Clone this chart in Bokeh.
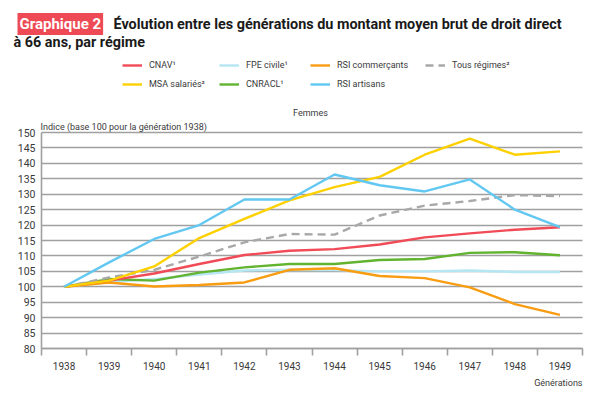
from bokeh.plotting import figure
from bokeh.models import (Range1d, FixedTicker, Label, Legend, LegendItem, ColumnDataSource)
from bokeh.embed import file_html
from bokeh.resources import INLINE

generations = ["1938", "1939", "1940", "1941", "1942", "1943", "1944",
               "1945", "1946", "1947", "1948", "1949"]
cnav = [100, 102.0, 104.3, 107.4, 110.3, 111.7, 112.2, 113.7, 116.0, 117.3, 118.5, 119.3]
msa_salaries = [100, 102.0, 106.6, 115.8, 122.0, 128.0, 132.3, 135.6, 142.8, 148.0, 142.8, 143.9]
fpe_civile = [100, 101.5, 102.5, 104.0, 105.3, 105.5, 105.4, 105.0, 105.0, 105.3, 104.8, 104.8]
cnracl = [100, 102.5, 102.0, 104.6, 106.3, 107.4, 107.4, 108.7, 109.0, 111.0, 111.2, 110.2]
rsi_commercants = [100, 101.4, 100.1, 100.6, 101.4, 105.5, 106.0, 103.5, 102.8, 99.8, 94.4, 90.9]
rsi_artisans = [100, 107.9, 115.5, 120.0, 128.3, 128.3, 136.4, 132.9, 130.9, 134.8, 125.0, 119.3]
tous_regimes = [100, 103.0, 105.5, 109.8, 114.4, 117.1, 116.9, 123.1, 126.3, 127.8, 129.7, 129.4]
y_ticks = list(range(80, 151, 5))

FONT = "Roboto"
TXT = "#3a3a3a"
GRID = "#a0a0a0"
W, H = 596, 395

# page-pixel layout of the plotting area
FL, FR, FT, FB = 41, 582, 132, 348
n = len(generations)
slot = (FR - FL) / n
ppu = (FB - FT) / (150 - 80)
X0 = -0.5 - FL / slot
X1 = (n - 0.5) + (W - FR) / slot
Y1 = 150 + FT / ppu
Y0 = 80 - (H - FB) / ppu

def X(px):
    return X0 + px / slot

def Y(py):
    return Y1 - py / ppu

series = [
    ("CNAV¹", cnav, "#f04b57", None),
    ("MSA salariés²", msa_salaries, "#fdd100", None),
    ("FPE civile¹", fpe_civile, "#b5e6f2", None),
    ("CNRACL¹", cnracl, "#62b330", None),
    ("RSI commerçants", rsi_commercants, "#f89c12", None),
    ("RSI artisans", rsi_artisans, "#62c8f2", None),
    ("Tous régimes²", tous_regimes, "#a8a8a8", "8 5"),
]
style = {s[0]: s for s in series}

p = figure(width=W, height=H, output_backend="svg", toolbar_location=None,
           x_range=Range1d(X0, X1), y_range=Range1d(Y0, Y1),
           min_border=0, min_border_left=0, min_border_right=0,
           min_border_top=0, min_border_bottom=0)
p.outline_line_color = None
p.title.visible = False
p.background_fill_color = "white"
p.border_fill_color = "white"
p.xgrid.visible = False
p.ygrid.visible = False

# y axis: fixed at the left edge of the plot area, its ticks run across as grid lines
ya = p.yaxis[0]
ya.fixed_location = -0.5
ya.bounds = (80, 150)
ya.level = "underlay"
ya.ticker = FixedTicker(ticks=y_ticks)
ya.major_tick_out = 0
ya.major_tick_in = int(FR - FL)
ya.major_tick_line_color = GRID
ya.major_tick_line_width = 1.6
ya.minor_tick_out = 0
ya.minor_tick_in = 0
ya.axis_line_color = GRID
ya.axis_line_width = 1.6
ya.major_label_text_font = FONT
ya.major_label_text_font_size = "10.5px"
ya.major_label_text_color = TXT
ya.major_label_standoff = 6

xa = p.xaxis[0]
xa.fixed_location = 80
xa.bounds = (-0.5, n - 0.5)
xa.level = "underlay"
xa.ticker = FixedTicker(ticks=list(range(n)), minor_ticks=[i - 0.5 for i in range(n + 1)])
xa.major_label_overrides = {i: g for i, g in enumerate(generations)}
xa.major_tick_out = 0
xa.major_tick_in = 0
xa.minor_tick_out = 7
xa.minor_tick_in = 0
xa.minor_tick_line_color = GRID
xa.minor_tick_line_width = 1.6
xa.axis_line_color = GRID
xa.axis_line_width = 1.6
xa.major_label_text_font = FONT
xa.major_label_text_font_size = "10px"
xa.major_label_text_color = TXT
xa.major_label_standoff = 6

draw_order = ["FPE civile¹", "RSI commerçants", "CNRACL¹", "CNAV¹",
              "Tous régimes²", "MSA salariés²", "RSI artisans"]
renderers = {}
for name in draw_order:
    _, vals, col, dash = style[name]
    src = ColumnDataSource(dict(x=list(range(n)), y=vals))
    kw = dict(line_color=col, line_width=2.4)
    if dash:
        kw["line_dash"] = dash
    renderers[name] = p.line("x", "y", source=src, **kw)

# legend in four columns
columns = [["CNAV¹", "MSA salariés²"], ["FPE civile¹", "CNRACL¹"],
           ["RSI commerçants", "RSI artisans"], ["Tous régimes²"]]
col_x = [122, 219, 310, 425]
for cx, names in zip(col_x, columns):
    bottom = 91 if len(names) == 2 else 72
    leg = Legend(items=[LegendItem(label=nm, renderers=[renderers[nm]]) for nm in names],
                 location=(cx, H - bottom),
                 orientation="vertical", padding=0, margin=0, spacing=5,
                 glyph_width=20, glyph_height=14, label_height=14, label_standoff=7,
                 label_text_font=FONT, label_text_font_size="9px", label_text_color=TXT,
                 border_line_color=None, background_fill_alpha=0)
    p.add_layout(leg, "center")

# texts
p.add_layout(Label(x=X(17), y=Y(23.5), text="Graphique 2",
                   text_font=FONT, text_font_style="bold", text_font_size="15px",
                   text_color="white", background_fill_color="#ee4a55",
                   padding=2, text_baseline="alphabetic"))
p.add_layout(Label(x=X(113), y=Y(23.5),
                   text="Évolution entre les générations du montant moyen brut de droit direct",
                   text_font=FONT, text_font_style="bold", text_font_size="14.4px",
                   text_color="#1a1a1a", text_baseline="alphabetic"))
p.add_layout(Label(x=X(13), y=Y(42), text="à 66 ans, par régime",
                   text_font=FONT, text_font_style="bold", text_font_size="14.4px",
                   text_color="#1a1a1a", text_baseline="alphabetic"))
p.add_layout(Label(x=X(310), y=Y(112), text="Femmes",
                   text_font=FONT, text_font_size="9px", text_color=TXT,
                   text_align="center", text_baseline="alphabetic"))
p.add_layout(Label(x=X(40), y=Y(126), text="Indice (base 100 pour la génération 1938)",
                   text_font=FONT, text_font_size="9px", text_color=TXT,
                   text_baseline="alphabetic"))
p.add_layout(Label(x=X(582), y=Y(382), text="Générations",
                   text_font=FONT, text_font_size="9px", text_color=TXT,
                   text_align="right", text_baseline="alphabetic"))

open("out.html", "w").write(file_html(p, INLINE))
